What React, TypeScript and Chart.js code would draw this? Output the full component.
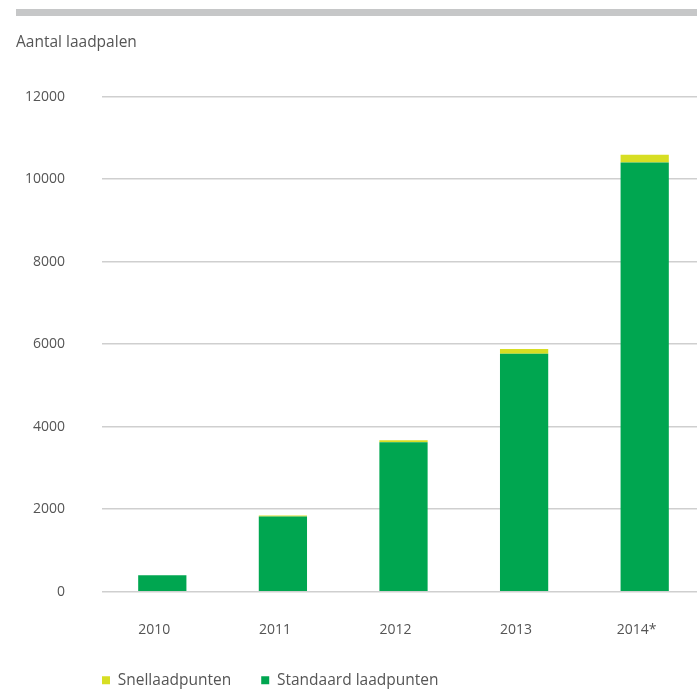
import React, { useEffect, useRef } from 'react';
import { Chart, registerables } from 'chart.js';

Chart.register(...registerables);

const categories = ['2010', '2011', '2012', '2013', '2014*'];
const standaard = [400, 1820, 3620, 5770, 10400];
const snel = [0, 25, 50, 110, 190];
const yMin = 0;
const yMax = 12000;
const yStep = 2000;

const GREEN = '#00a650';
const YELLOW = '#d7de23';
const TEXT = '#555555';
const FONT = '"Open Sans", sans-serif';

const decor = {
  id: 'decor',
  afterLayout(chart: any) {
    if (chart.titleBlock) chart.titleBlock.left = 16;
    if (chart.legend) {
      chart.legend.left = 72;
      chart.legend.top += 8;
    }
  },
  beforeDraw(chart: any) {
    const ctx = chart.ctx;
    ctx.save();
    ctx.fillStyle = '#c6c7c8';
    ctx.fillRect(16, 9, chart.width - 16, 7);
    ctx.restore();
  },
};

export default function App() {
  const ref = useRef<HTMLCanvasElement>(null);
  useEffect(() => {
    document.body.style.margin = '0';
    const chart = new Chart(ref.current!, {
      type: 'bar',
      data: {
        labels: categories,
        datasets: [
          {
            label: 'Standaard laadpunten',
            data: standaard,
            backgroundColor: GREEN,
            borderWidth: 0,
            barPercentage: 0.4,
            categoryPercentage: 1,
          },
          {
            label: 'Snellaadpunten',
            data: snel,
            backgroundColor: YELLOW,
            borderWidth: 0,
            barPercentage: 0.4,
            categoryPercentage: 1,
          },
        ],
      },
      options: {
        animation: false,
        responsive: false,
        maintainAspectRatio: false,
        layout: { padding: 0 },
        plugins: {
          title: {
            display: true,
            text: 'Aantal laadpalen',
            align: 'start',
            color: TEXT,
            font: { family: FONT, size: 15.5, weight: 'normal', lineHeight: 1.2 },
            padding: { top: 33, bottom: 45 },
          },
          legend: {
            position: 'bottom',
            align: 'start',
            reverse: true,
            labels: {
              boxWidth: 8,
              boxHeight: 8,
              padding: 30,
              color: TEXT,
              font: { family: FONT, size: 15.5 },
            },
          },
          tooltip: { enabled: false },
        },
        scales: {
          x: {
            stacked: true,
            grid: { display: false },
            border: { display: false },
            ticks: { padding: 22, labelOffset: -8, color: TEXT, font: { family: FONT, size: 14 } },
            afterFit: (s: any) => {
              s.height = 42.8;
            },
          },
          y: {
            stacked: true,
            min: yMin,
            max: yMax,
            ticks: {
              stepSize: yStep,
              padding: 37,
              color: TEXT,
              font: { family: FONT, size: 14 },
              callback: (v: any) => String(v),
            },
            grid: { color: '#cfcfcf', lineWidth: 1.5, drawTicks: false },
            border: { display: false },
            afterFit: (s: any) => {
              s.width = 102;
            },
          },
        },
      },
      plugins: [decor],
    });
    return () => chart.destroy();
  }, []);
  return (
    <div style={{ width: 697, height: 690, overflow: 'hidden', position: 'relative' }}>
      <canvas ref={ref} width={705} height={690} style={{ display: 'block' }} />
    </div>
  );
}
